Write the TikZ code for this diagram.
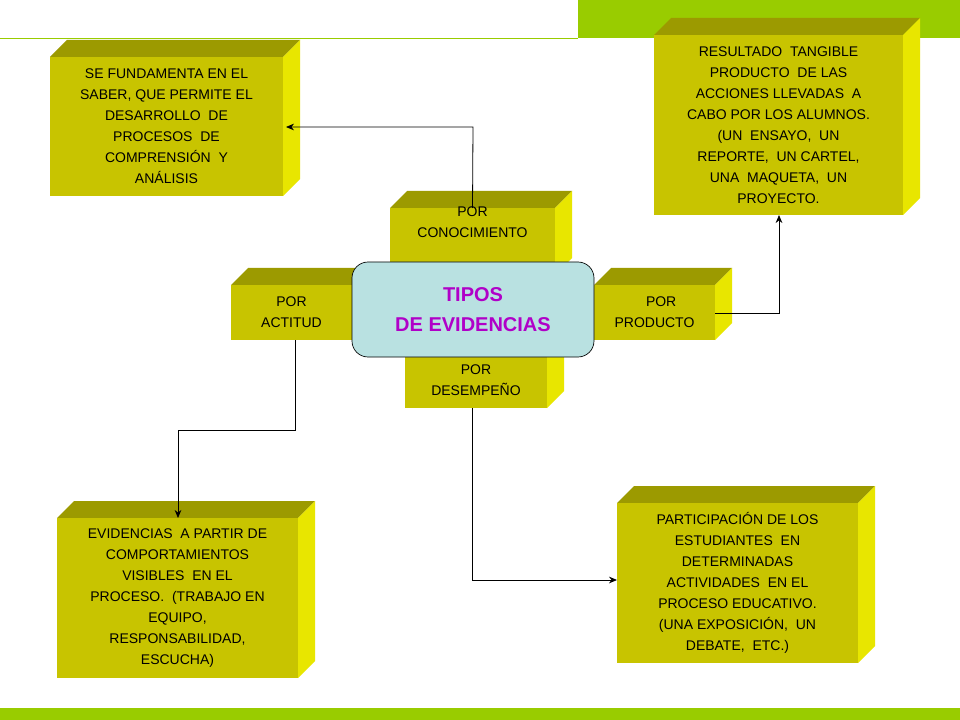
\documentclass[tikz,border=0pt]{standalone}
\usepackage{fontspec}
\setmainfont{Liberation Sans}
\usetikzlibrary{arrows.meta}
\definecolor{front}{HTML}{C8C400}
\definecolor{topf}{HTML}{9C9A00}
\definecolor{side}{HTML}{E8E600}
\definecolor{green1}{HTML}{99CC00}
\definecolor{cbox}{HTML}{B9E1E1}
\definecolor{purp}{HTML}{B000C8}
\tikzset{
 txt/.style={align=center,font=\fontsize{10.5}{15.7}\selectfont,text=black},
 conn/.style={draw=black,line width=0.6pt,-{Stealth[length=6pt,width=5pt]}}
}
% \cube{name}{x1}{y1}{x2}{y2}{depth}{text}
\newcommand{\mycube}[7]{%
 \fill[topf] (#2,#3) -- (#2+#6,#3-#6) -- (#4+#6,#3-#6) -- (#4,#3) -- cycle;
 \fill[side] (#4,#3) -- (#4+#6,#3-#6) -- (#4+#6,#5-#6) -- (#4,#5) -- cycle;
 \fill[front] (#2,#3) rectangle (#4,#5);
 \node[txt] (#1) at ({(#2+#4)/2},{(#3+#5)/2}) {#7};
 \coordinate (#1-n) at ({(#2+#4)/2},#3);
 \coordinate (#1-s) at ({(#2+#4)/2},#5);
}
\begin{document}
\begin{tikzpicture}[x=0.75pt,y=-0.75pt]
\useasboundingbox (0,0) rectangle (960,720);
\fill[white] (0,0) rectangle (960,720);
\fill[green1] (578,0) rectangle (960,38);
\draw[green1,line width=0.8pt] (0,38.5) -- (578,38.5);
\fill[green1] (0,708) rectangle (960,720);

\mycube{kn}{50}{57}{283}{196}{17}{SE FUNDAMENTA EN EL\\SABER, QUE PERMITE EL\\DESARROLLO\ \ DE\\PROCESOS\ \ DE\\COMPRENSIÓN\ \ Y\\ANÁLISIS}
\mycube{res}{654}{35}{903}{215}{17}{RESULTADO\ \ TANGIBLE\\PRODUCTO\ \ DE\ LAS\\ACCIONES LLEVADAS\ \ A\\CABO POR LOS ALUMNOS.\\(UN\ \ ENSAYO,\ \ UN\\REPORTE,\ \ UN CARTEL,\\UNA\ \ MAQUETA,\ \ UN\\PROYECTO.}
\mycube{pc}{390}{208}{555}{275}{17}{POR\\CONOCIMIENTO\\[14pt]}
\mycube{pa}{231}{285}{352}{340}{17}{POR\hspace{20pt}\\ACTITUD\hspace{18pt}}
\mycube{pp}{594}{285}{715}{340}{17}{\hspace{10pt}POR\\PRODUCTO}
\mycube{pd}{405}{355}{547}{408}{17}{\\[-10pt]POR\\DESEMPEÑO}
\mycube{act}{57}{518}{298}{678}{17}{EVIDENCIAS\ \ A PARTIR DE\\COMPORTAMIENTOS\\VISIBLES\ \ EN EL\\PROCESO.\ \ (TRABAJO EN\\EQUIPO,\\RESPONSABILIDAD,\\ESCUCHA)}
\mycube{des}{617}{503}{858}{663}{17}{PARTICIPACIÓN\ DE LOS\\ESTUDIANTES\ \ EN\\DETERMINADAS\\ACTIVIDADES\ \ EN EL\\PROCESO\ EDUCATIVO.\\(UNA EXPOSICIÓN,\ \ UN\\DEBATE,\ \ ETC.)}

\draw[fill=cbox,draw=black,line width=0.5pt,rounded corners=12pt] (352,262) rectangle (594,357);
\node[align=center,text=purp,font=\fontsize{15}{22}\selectfont\bfseries] (tipos) at (473,309.5) {TIPOS\\DE EVIDENCIAS};

\coordinate (k1) at (473,127);
\coordinate (knr) at (286,127);
\draw[conn] (pc-n) -- (k1) -- (knr);
\coordinate (ppr) at (715,313);
\coordinate (p1) at (779,313);
\coordinate (resb) at (779,215);
\draw[conn] (ppr) -- (p1) -- (resb);
\coordinate (pas) at (295,340);
\draw[conn] (pas) -- (295,430) -- (178,430) -- (178,518);
\coordinate (pds) at (472,408);
\draw[conn] (pds) -- (472,580) -- (617,580);
\end{tikzpicture}
\end{document}
